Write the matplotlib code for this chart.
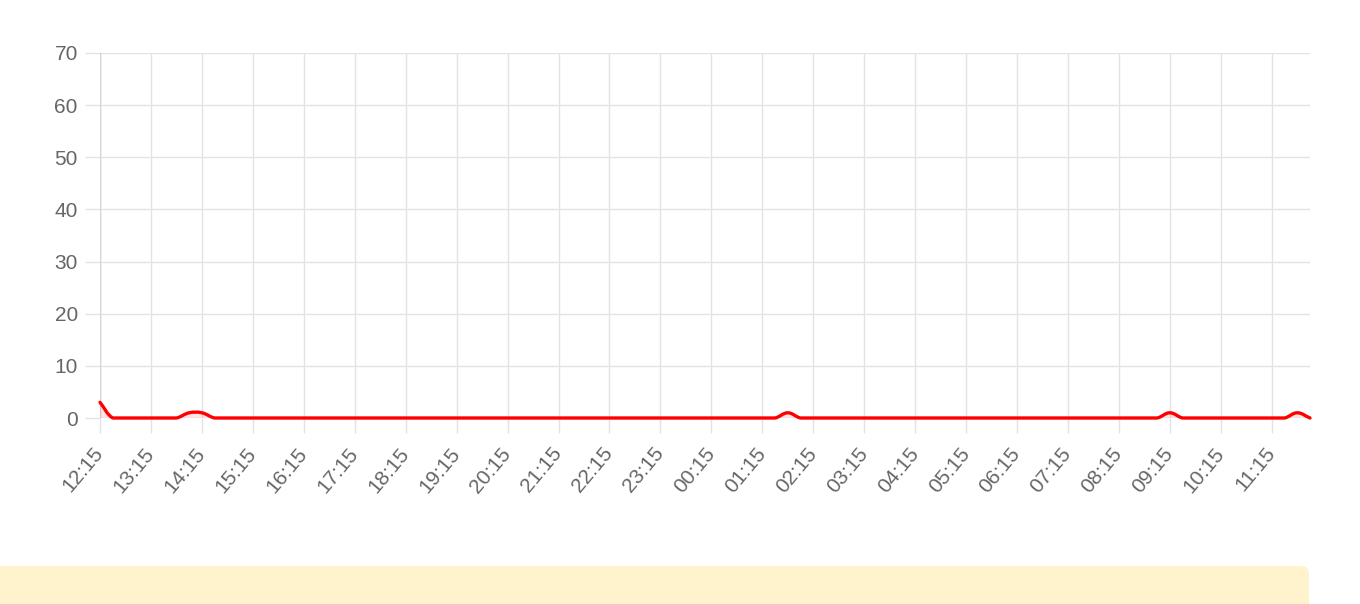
import matplotlib
matplotlib.use("Agg")
import matplotlib.pyplot as plt
from matplotlib.path import Path
from matplotlib.patches import PathPatch, FancyBboxPatch
import numpy as np

plt.rcParams['font.family'] = ['Liberation Sans', 'DejaVu Sans']

# ---- data ----
tick_labels = ["12:15", "13:15", "14:15", "15:15", "16:15", "17:15", "18:15", "19:15",
               "20:15", "21:15", "22:15", "23:15", "00:15", "01:15", "02:15", "03:15",
               "04:15", "05:15", "06:15", "07:15", "08:15", "09:15", "10:15", "11:15"]
points_per_label = 4   # one reading every 15 minutes
values = [3, 0, 0, 0, 0, 0, 0, 1, 1, 0, 0, 0, 0, 0, 0, 0,
          0, 0, 0, 0, 0, 0, 0, 0, 0, 0, 0, 0, 0, 0, 0, 0,
          0, 0, 0, 0, 0, 0, 0, 0, 0, 0, 0, 0, 0, 0, 0, 0,
          0, 0, 0, 0, 0, 0, 1, 0, 0, 0, 0, 0, 0, 0, 0, 0,
          0, 0, 0, 0, 0, 0, 0, 0, 0, 0, 0, 0, 0, 0, 0, 0,
          0, 0, 0, 0, 1, 0, 0, 0, 0, 0, 0, 0, 0, 0, 1, 0]
y_ticks = [0, 10, 20, 30, 40, 50, 60, 70]

W, H = 1360, 604
fig = plt.figure(figsize=(W / 100, H / 100), dpi=100)
left, right, top, bottom = 100, 1310, 53, 418
ax = fig.add_axes([left / W, (H - bottom) / H, (right - left) / W, (bottom - top) / H])

n = len(values)
x = np.arange(n)
y = np.array(values, dtype=float)
ax.set_xlim(0, n - 1)
ax.set_ylim(0, 70)

# Chart.js-like spline (tension 0.4), computed in pixel space
sx = (right - left) / (n - 1)
sy = (bottom - top) / 70.0
px, py = x * sx, y * sy
t = 0.4
cp_prev = np.zeros((n, 2))
cp_next = np.zeros((n, 2))
for i in range(n):
    p1 = np.array([px[i], py[i]])
    p0 = np.array([px[i - 1], py[i - 1]]) if i > 0 else p1
    p2 = np.array([px[i + 1], py[i + 1]]) if i < n - 1 else p1
    d01 = np.hypot(*(p1 - p0))
    d12 = np.hypot(*(p2 - p1))
    tot = d01 + d12
    s01 = d01 / tot if tot else 0
    s12 = d12 / tot if tot else 0
    cp_prev[i] = p1 - t * s01 * (p2 - p0)
    cp_next[i] = p1 + t * s12 * (p2 - p0)
cp_prev[:, 1] = np.clip(cp_prev[:, 1], 0, 70 * sy)
cp_next[:, 1] = np.clip(cp_next[:, 1], 0, 70 * sy)

verts = [(x[0], y[0])]
codes = [Path.MOVETO]
for i in range(n - 1):
    verts += [(cp_next[i][0] / sx, cp_next[i][1] / sy),
              (cp_prev[i + 1][0] / sx, cp_prev[i + 1][1] / sy),
              (x[i + 1], y[i + 1])]
    codes += [Path.CURVE4] * 3

fill_verts = verts + [(x[-1], 0), (x[0], 0), (x[0], y[0])]
fill_codes = codes + [Path.LINETO, Path.LINETO, Path.CLOSEPOLY]
ax.add_patch(PathPatch(Path(fill_verts, fill_codes), facecolor=(1, 0, 0, 0.1),
                       edgecolor='none', zorder=2))
ax.add_patch(PathPatch(Path(verts, codes), facecolor='none', edgecolor='#ff0000',
                       linewidth=2.4, zorder=3, capstyle='round', joinstyle='round',
                       clip_on=False))

# ticks & grid
grid_c = '#e3e3e3'
tick_pos = np.arange(0, n, points_per_label)[:len(tick_labels)]
ax.set_xticks(tick_pos)
ax.set_xticklabels(tick_labels, rotation=50, ha='right', va='center',
                   rotation_mode='anchor', fontsize=15, color='#666666')
ax.set_yticks(y_ticks)
ax.set_yticklabels([str(v) for v in y_ticks], fontsize=15, color='#666666')
ax.tick_params(axis='x', length=11, width=1, color=grid_c, pad=12)
ax.tick_params(axis='y', length=11, width=1, color=grid_c, pad=5)
ax.grid(True, color=grid_c, linewidth=1, zorder=0)
ax.set_axisbelow(True)
for s in ax.spines.values():
    s.set_visible(False)
ax.axvline(0, color='#d5d5d5', linewidth=1, zorder=1)

# yellow notice box at bottom
box = FancyBboxPatch((-20 / W, -40 / H), (1309 + 20) / W, (604 - 566 + 40) / H,
                     boxstyle="round,pad=0,rounding_size=0.006",
                     transform=fig.transFigure, facecolor='#fff3cd',
                     edgecolor='none', mutation_aspect=W / H)
fig.patches.append(box)

fig.savefig("out.png", dpi=100)
